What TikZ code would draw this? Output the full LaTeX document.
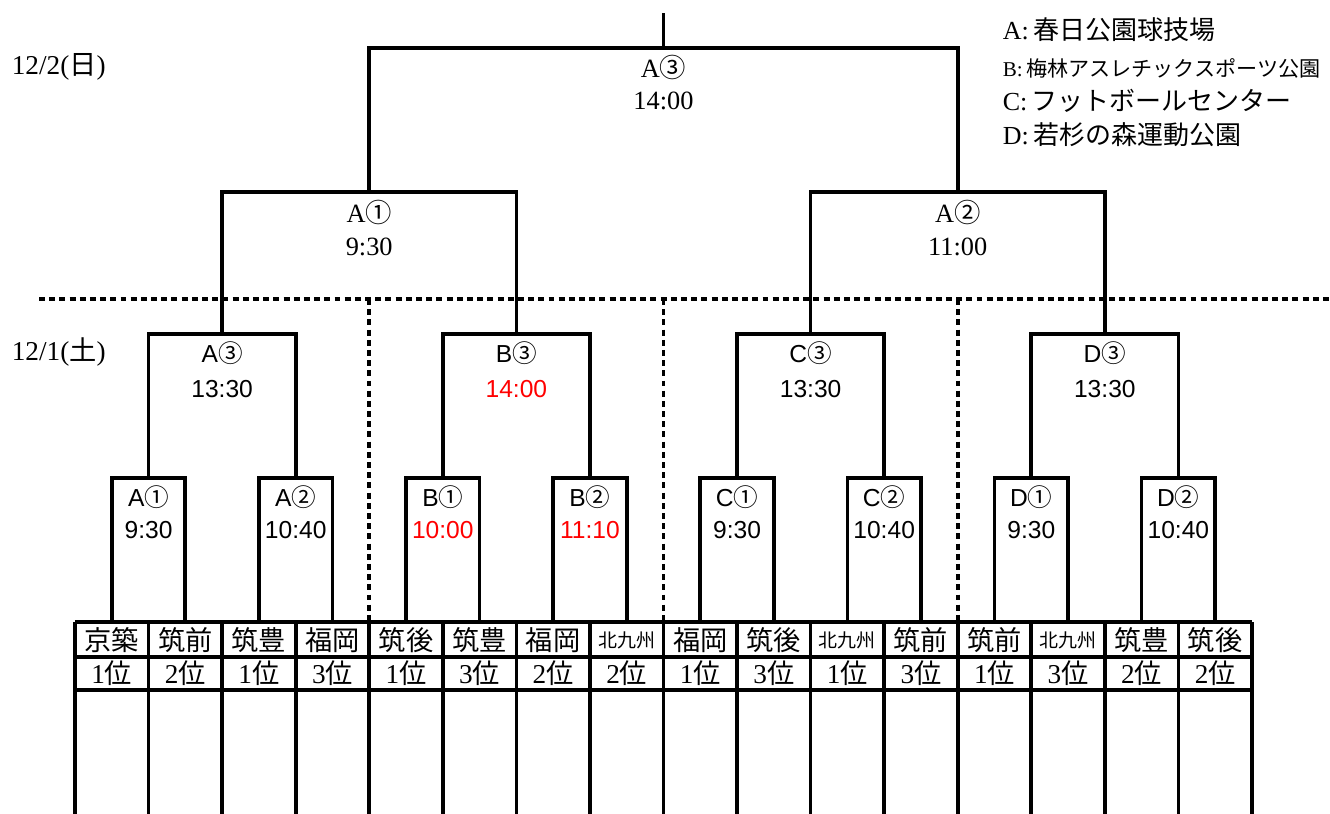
\documentclass[tikz,border=0pt]{standalone}
\usepackage{fontspec}
\usepackage{xcolor}
\setmainfont{Liberation Serif}
\setsansfont{Liberation Sans}
\newfontfamily\jp{Noto Sans CJK JP}
\usetikzlibrary{calc}
\newcommand\mk[1]{{\jp\ifcase#1\or ①\or ②\or ③\fi}}
\newcommand\kyu{\fontsize{10.8}{12}\selectfont}
\begin{document}
\begin{tikzpicture}[x=0.02cm, y=-0.02cm, line width=2.1pt,
    team/.style={font=\jp\fontsize{15.5}{18}\selectfont, inner sep=0pt},
    rank/.style={font=\fontsize{15.5}{18}\selectfont, inner sep=0pt},
    rlbl/.style={font=\sffamily\fontsize{14}{16}\selectfont, inner sep=0pt},
    tlbl/.style={font=\fontsize{15}{18}\selectfont, inner sep=0pt},
    dotline/.style={dash pattern=on 3.4pt off 2.4pt}]
    \useasboundingbox (0,0) rectangle (1330,814);

    % table of teams
    \foreach \n/\r [count=\i] in {京築/1, 筑前/2, 筑豊/1, 福岡/3, 筑後/1, 筑豊/3, 福岡/2, {\kyu 北九州}/2,
                                 福岡/1, 筑後/3, {\kyu 北九州}/1, 筑前/3, 筑前/1, {\kyu 北九州}/3, 筑豊/2, 筑後/2} {
        \pgfmathsetmacro\cx{75+73.56*(\i-0.5)}
        \coordinate (s\i) at (\cx,622);
        \node[team] (t\i) at (\cx,640) {\n};
        \node[rank] (r\i) at (\cx,673) {\r{\jp 位}};
    }
    \foreach \j in {0,...,16}
        \draw ({75+73.56*\j},622) -- ({75+73.56*\j},814);
    \foreach \yy in {622,657,690}
        \draw (75,\yy) -- (1252,\yy);

    % first round
    \foreach \k/\lt/\nr/\tm/\col in {1/A/1/9:30/black, 2/A/2/10:40/black, 3/B/1/10:00/red, 4/B/2/11:10/red,
                                     5/C/1/9:30/black, 6/C/2/10:40/black, 7/D/1/9:30/black, 8/D/2/10:40/black} {
        \pgfmathtruncatemacro\a{2*\k-1}
        \pgfmathtruncatemacro\b{2*\k}
        \coordinate (q\k) at ({75+73.56*(2*\k-1)},478);
        \draw (s\a) |- (q\k) -| (s\b);
        \node[rlbl] (q\k-id) at ($(q\k)+(0,19)$) {\lt\mk{\nr}};
        \node[rlbl, text=\col] (q\k-tm) at ($(q\k)+(0,52)$) {\tm};
    }

    % second round
    \foreach \m/\lt/\tm/\col in {1/A/13:30/black, 2/B/14:00/red, 3/C/13:30/black, 4/D/13:30/black} {
        \pgfmathtruncatemacro\a{2*\m-1}
        \pgfmathtruncatemacro\b{2*\m}
        \coordinate (h\m) at ({75+73.56*(4*\m-2)},334);
        \draw (q\a) |- (h\m) -| (q\b);
        \node[rlbl] (h\m-id) at ($(h\m)+(0,19)$) {\lt\mk{3}};
        \node[rlbl, text=\col] (h\m-tm) at ($(h\m)+(0,55)$) {\tm};
    }

    % semi finals and final
    \coordinate (f1) at ({75+73.56*4},192);
    \coordinate (f2) at ({75+73.56*12},192);
    \coordinate (fin) at ({75+73.56*8},48);
    \coordinate (fintop) at ({75+73.56*8},13);
    \draw (h1) |- (f1) -| (h2);
    \draw (h3) |- (f2) -| (h4);
    \draw (f1) |- (fin) -| (f2);
    \draw (fin) -- (fintop);
    \node[tlbl] (f1-id) at ($(f1)+(0,20)$) {A\mk{1}};
    \node[tlbl] (f1-tm) at ($(f1)+(0,55)$) {9:30};
    \node[tlbl] (f2-id) at ($(f2)+(0,20)$) {A\mk{2}};
    \node[tlbl] (f2-tm) at ($(f2)+(0,55)$) {11:00};
    \node[tlbl] (fin-id) at ($(fin)+(0,19)$) {A\mk{3}};
    \node[tlbl] (fin-tm) at ($(fin)+(0,53)$) {14:00};

    % day separators
    \draw[dotline] (39,299) -- (1330,299);
    \foreach \j in {4,8,12}
        \draw[dotline] ({75+73.56*\j},299) -- ({75+73.56*\j},622);

    % dates
    \node[tlbl, anchor=west, font=\fontsize{15.5}{18}\selectfont] (day2) at (10,67) {12/2({\jp 日})};
    \node[tlbl, anchor=west, font=\fontsize{15.5}{18}\selectfont] (day1) at (10,352) {12/1({\jp 土})};

    % venues
    \node[tlbl, anchor=west, font=\fontsize{14.8}{17}\selectfont] (vA) at (1001,30) {A:\,{\jp 春日公園球技場}};
    \node[tlbl, anchor=west, font=\fontsize{12}{14}\selectfont] (vB) at (1001,68) {B:\,{\jp 梅林アスレチックスポーツ公園}};
    \node[tlbl, anchor=west, font=\fontsize{14.8}{17}\selectfont] (vC) at (1001,101) {C:\,{\jp フットボールセンター}};
    \node[tlbl, anchor=west, font=\fontsize{14.8}{17}\selectfont] (vD) at (1001,135) {D:\,{\jp 若杉の森運動公園}};
\end{tikzpicture}
\end{document}
